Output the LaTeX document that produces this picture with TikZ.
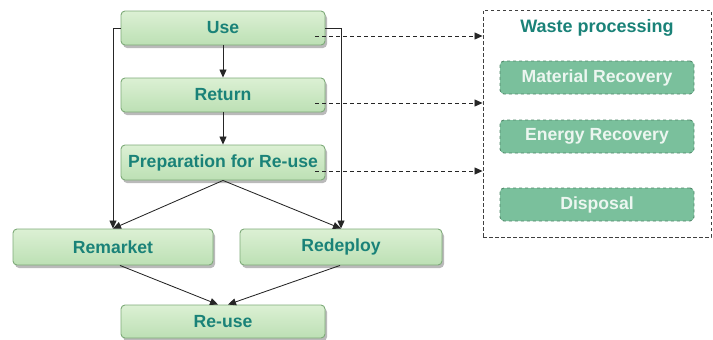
\documentclass[tikz,border=0pt]{standalone}
\usepackage{fontspec}
\setmainfont{Liberation Sans}
\usetikzlibrary{arrows.meta,shadows,positioning}
\definecolor{txtteal}{RGB}{26,130,120}
\definecolor{boxtop}{RGB}{220,240,212}
\definecolor{boxbot}{RGB}{188,224,180}
\definecolor{boxline}{RGB}{125,170,120}
\definecolor{wfill}{RGB}{122,192,156}
\definecolor{wline}{RGB}{80,135,105}
\definecolor{wtxt}{RGB}{236,246,240}
\tikzset{
  stagebox/.style={draw=boxline, line width=0.9pt, rounded corners=4pt,
    top color=boxtop, bottom color=boxbot,
    drop shadow={shadow xshift=2pt, shadow yshift=-3pt, fill=black!45, opacity=0.6},
    text=txtteal, font=\fontsize{17.6}{20}\selectfont\bfseries,
    minimum height=34pt, inner sep=0pt},
  wastebox/.style={draw=wline, dashed, line width=0.9pt, rounded corners=4pt,
    fill=wfill, text=wtxt, font=\fontsize{17.6}{20}\selectfont\bfseries,
    minimum width=194pt, minimum height=33pt, inner sep=0pt},
  flow/.style={draw=black!85, line width=0.85pt, -{Triangle[length=8pt,width=7pt]}},
  dflow/.style={draw=black!85, line width=0.85pt, dash pattern=on 4pt off 3pt, -{Triangle[length=8pt,width=7pt]}},
}
\begin{document}
\begin{tikzpicture}[x=1pt,y=-1pt]
\useasboundingbox (0,0) rectangle (713,340);
% dashed frame
\node[draw=black!75, dash pattern=on 3.5pt off 2.5pt, line width=0.9pt, minimum width=228pt, minimum height=227pt, inner sep=0pt] (wp) at (597,123.5) {};
\node[text=txtteal, font=\fontsize{18}{20}\selectfont\bfseries] (wptitle) at (597,28) {Waste processing};
\node[wastebox] (mat) at (597,77.5) {Material Recovery};
\node[wastebox] (ene) at (597,136.5) {Energy Recovery};
\node[wastebox] (dis) at (597,204.5) {Disposal};
% stages
\node[stagebox, minimum width=204pt] (use) at (223,28) {Use};
\node[stagebox, minimum width=204pt] (ret) at (223,95) {Return};
\node[stagebox, minimum width=204pt, minimum height=35pt] (prep) at (223,162.5) {Preparation for Re-use};
\node[stagebox, minimum width=200pt, minimum height=36pt] (rem) at (113,247) {Remarket};
\node[stagebox, minimum width=202pt, minimum height=36pt] (red) at (341,247) {Redeploy};
\node[stagebox, minimum width=204pt, minimum height=33pt] (reuse) at (223,321.5) {Re-use};
% connectors
\draw[flow] (use) -- (ret);
\draw[flow] (ret) -- (prep);
\draw[flow] (use.west) -| (rem.north);
\draw[flow] (use.east) -| (red.north);
\draw[flow] (prep.south) -- (rem.north);
\draw[flow] (prep.south) -- (red.north);
\draw[flow] ([xshift=7pt]rem.south) -- ([xshift=-5pt]reuse.north);
\draw[flow] ([xshift=-1pt]red.south) -- ([xshift=5pt]reuse.north);
\coordinate (d1) at ([xshift=-10pt,yshift=-8pt]use.east);
\coordinate (d2) at ([xshift=-10pt,yshift=-8pt]ret.east);
\coordinate (d3) at ([xshift=-10pt,yshift=-8.5pt]prep.east);
\draw[dflow] (d1) -- (wp.west |- d1);
\draw[dflow] (d2) -- (wp.west |- d2);
\draw[dflow] (d3) -- (wp.west |- d3);
\end{tikzpicture}
\end{document}
